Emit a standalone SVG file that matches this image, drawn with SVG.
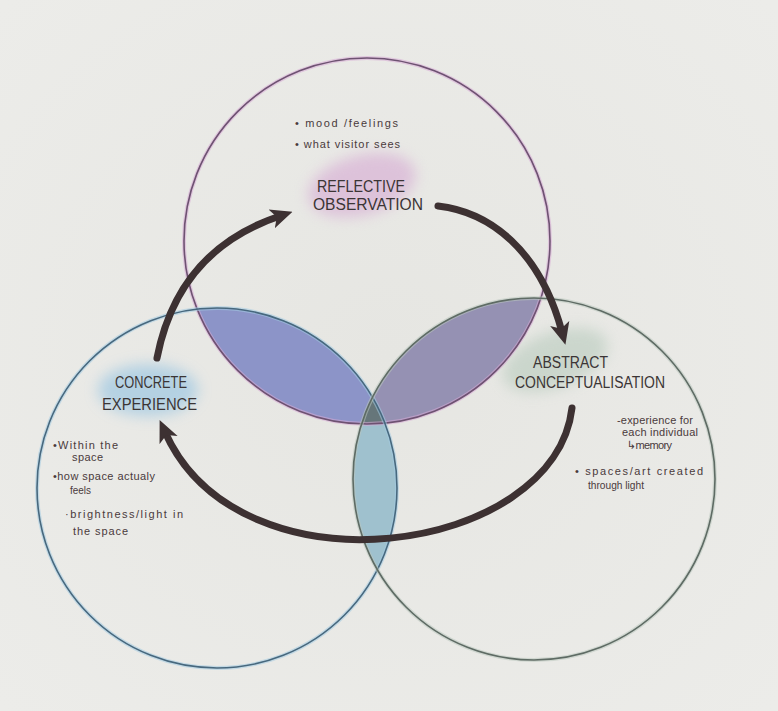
<svg xmlns="http://www.w3.org/2000/svg" width="778" height="711" viewBox="0 0 778 711">
  <defs>
    <style>
      .title { font-family: "Liberation Sans", "DejaVu Sans", sans-serif; font-size: 16px; fill: #3b3535; }
      .note { font-family: "Liberation Sans", "DejaVu Sans", sans-serif; font-size: 11px; fill: #4a3a3c; }
      .arrow { fill: none; stroke: #3d3132; stroke-width: 7; stroke-linecap: round; marker-end: url(#head); }
      .halo { fill: none; stroke-width: 4; opacity: 0.55; }
      .ring { fill: none; stroke-width: 1.6; }
    </style>
    <marker id="head" viewBox="0 0 20 20" markerUnits="userSpaceOnUse" markerWidth="22" markerHeight="22" refX="8" refY="10" orient="auto">
      <path d="M0,1 L20,10 L0,19 L5,10 Z" fill="#3d3132"/>
    </marker>
    <clipPath id="cTop"><circle cx="367" cy="241" r="183"/></clipPath>
    <clipPath id="cLeft"><circle cx="217" cy="488" r="180"/></clipPath>
    <clipPath id="cRight"><circle cx="534" cy="479" r="181"/></clipPath>
    <filter id="blur" x="-30%" y="-30%" width="160%" height="160%"><feGaussianBlur stdDeviation="7"/></filter>
    <radialGradient id="paper" cx="50%" cy="50%" r="70%">
      <stop offset="0" stop-color="#e6e6e2"/>
      <stop offset="1" stop-color="#ecece9"/>
    </radialGradient>
  </defs>

  <rect x="0" y="0" width="778" height="711" fill="url(#paper)"/>

  <g id="shading">
    <ellipse cx="362" cy="185" rx="55" ry="30" fill="#d6a9d3" opacity="0.6" filter="url(#blur)" transform="rotate(-15 362 185)"/>
    <ellipse cx="148" cy="390" rx="50" ry="26" fill="#9fc8e2" opacity="0.7" filter="url(#blur)"/>
    <ellipse cx="555" cy="360" rx="55" ry="28" fill="#bfcfc3" opacity="0.7" filter="url(#blur)" transform="rotate(-20 555 360)"/>
  </g>

  <g id="overlaps">
    <circle cx="217" cy="488" r="180" fill="#8c94c8" clip-path="url(#cTop)"/>
    <circle cx="534" cy="479" r="181" fill="#9591b3" clip-path="url(#cTop)"/>
    <circle cx="534" cy="479" r="181" fill="#9fc1ce" clip-path="url(#cLeft)"/>
    <g clip-path="url(#cTop)">
      <circle cx="534" cy="479" r="181" fill="#66767a" clip-path="url(#cLeft)"/>
    </g>
  </g>

  <g id="reflective-observation">
    <circle class="halo" cx="367" cy="241" r="183" stroke="#d7aad6"/>
    <circle class="ring" cx="367" cy="241" r="183" stroke="#6e5272"/>
    <text class="note" x="295" y="127" textLength="103">• mood /feelings</text>
    <text class="note" x="295" y="148" textLength="105">• what visitor sees</text>
    <text class="title" x="317" y="192" textLength="88" lengthAdjust="spacingAndGlyphs">REFLECTIVE</text>
    <text class="title" x="313" y="210" textLength="110" lengthAdjust="spacingAndGlyphs">OBSERVATION</text>
  </g>

  <g id="concrete-experience">
    <circle class="halo" cx="217" cy="488" r="180" stroke="#a3cbe2"/>
    <circle class="ring" cx="217" cy="488" r="180" stroke="#47687e"/>
    <text class="title" x="115" y="388" textLength="72" lengthAdjust="spacingAndGlyphs">CONCRETE</text>
    <text class="title" x="102" y="410" textLength="95" lengthAdjust="spacingAndGlyphs">EXPERIENCE</text>
    <text class="note" x="53" y="449" textLength="65">•Within the</text>
    <text class="note" x="72" y="461" textLength="31">space</text>
    <text class="note" x="53" y="480" textLength="102">•how space actualy</text>
    <text class="note" x="70" y="494" textLength="21" lengthAdjust="spacingAndGlyphs">feels</text>
    <text class="note" x="65" y="518" textLength="118">·brightness/light in</text>
    <text class="note" x="73" y="535" textLength="55">the space</text>
  </g>

  <g id="abstract-conceptualisation">
    <circle class="halo" cx="534" cy="479" r="181" stroke="#b9c6bd"/>
    <circle class="ring" cx="534" cy="479" r="181" stroke="#5e6b64"/>
    <text class="title" x="533" y="368" textLength="75" lengthAdjust="spacingAndGlyphs">ABSTRACT</text>
    <text class="title" x="515" y="388" textLength="150" lengthAdjust="spacingAndGlyphs">CONCEPTUALISATION</text>
    <text class="note" x="617" y="424" textLength="76" font-size="10">-experience for</text>
    <text class="note" x="622" y="436" textLength="76" font-size="10">each individual</text>
    <text class="note" x="627" y="449" textLength="45" font-size="10">↳memory</text>
    <text class="note" x="575" y="475" textLength="128">• spaces/art created</text>
    <text class="note" x="588" y="489" textLength="56" lengthAdjust="spacingAndGlyphs">through light</text>
  </g>

  <g id="connectors">
    <path class="arrow" d="M157,358 Q178,250 280,216"/>
    <path class="arrow" d="M438,206 C490,212 540,250 562,332"/>
    <path class="arrow" d="M572,408 C555,555 240,600 165,432"/>
  </g>
</svg>
